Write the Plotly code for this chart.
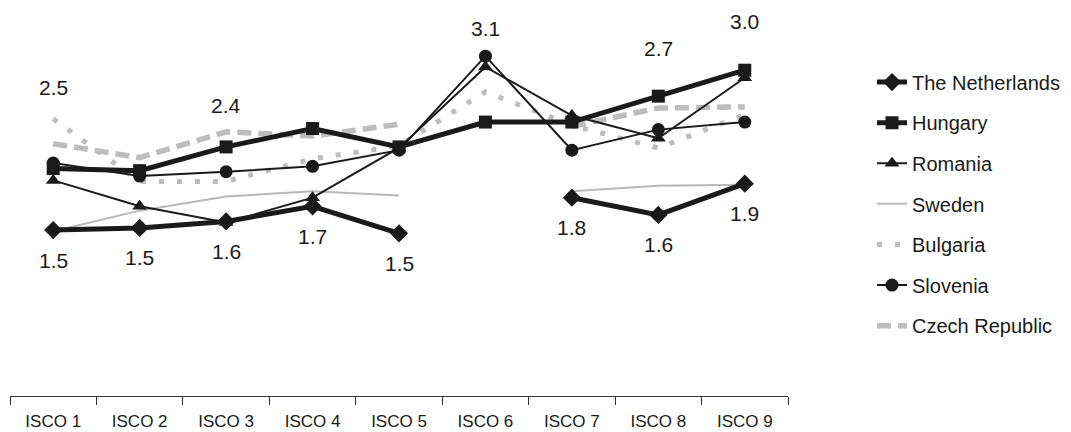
import plotly.graph_objects as go

categories = ["ISCO 1", "ISCO 2", "ISCO 3", "ISCO 4", "ISCO 5", "ISCO 6", "ISCO 7", "ISCO 8", "ISCO 9"]

netherlands = [1.49, 1.51, 1.57, 1.71, 1.46, None, 1.79, 1.63, 1.92]
hungary = [2.06, 2.04, 2.26, 2.43, 2.26, 2.49, 2.49, 2.73, 2.97]
romania = [1.95, 1.71, 1.56, 1.79, 2.25, 3.00, 2.55, 2.34, 2.90]
sweden = [1.48, 1.67, 1.80, 1.85, 1.81, None, 1.85, 1.90, 1.91]
bulgaria = [2.52, 1.94, 1.94, 2.15, 2.27, 2.77, 2.46, 2.25, 2.56]
slovenia = [2.11, 1.99, 2.03, 2.08, 2.23, 3.10, 2.23, 2.42, 2.49]
czech = [2.29, 2.16, 2.40, 2.36, 2.47, None, 2.45, 2.62, 2.63]

top_label_cats = ["ISCO 1", "ISCO 3", "ISCO 6", "ISCO 8", "ISCO 9"]
top_label_shift = [31, 26, 28, 48, 49]
bottom_label_shift = -30

FONT = "Liberation Sans, Arial, sans-serif"
BLACK = "#1a1a1a"
GRAY = "#bdbdbd"

fig = go.Figure()

# draw order: grey lines underneath, black on top; legend order via legendrank
specs = [
    ("Sweden", sweden, dict(color="#b8b8b8", width=2), None, 4),
    ("Bulgaria", bulgaria, dict(color=GRAY, width=5, dash="5px,13px"), None, 5),
    ("Czech Republic", czech, dict(color=GRAY, width=5.5, dash="14px,7px"), None, 7),
    ("Slovenia", slovenia, dict(color=BLACK, width=2), dict(symbol="circle", size=13, color=BLACK), 6),
    ("Romania", romania, dict(color=BLACK, width=2), dict(symbol="triangle-up", size=13, color=BLACK), 3),
    ("Hungary", hungary, dict(color=BLACK, width=5), dict(symbol="square", size=13, color=BLACK), 2),
    ("The Netherlands", netherlands, dict(color=BLACK, width=5), dict(symbol="diamond", size=14, color=BLACK), 1),
]

for name, vals, line, marker, rank in specs:
    fig.add_trace(go.Scatter(
        x=categories, y=vals, name=name,
        mode="lines+markers" if marker else "lines",
        line=line, marker=marker, connectgaps=False,
        legendrank=rank, legendgroup=name,
        hoverinfo="skip",
    ))

# bottom labels for The Netherlands
annotations = []
for c, v in zip(categories, netherlands):
    if v is None:
        continue
    annotations.append(dict(x=c, y=v, text=f"{v:.1f}", showarrow=False,
                            yshift=bottom_label_shift, xanchor="center", yanchor="middle",
                            font=dict(family=FONT, size=21, color=BLACK)))

# top labels: highest value among the countries at selected occupations
all_series = [netherlands, hungary, romania, sweden, bulgaria, slovenia, czech]
for c, sh in zip(top_label_cats, top_label_shift):
    i = categories.index(c)
    m = max(s[i] for s in all_series if s[i] is not None)
    annotations.append(dict(x=c, y=m, text=f"{m:.1f}", showarrow=False,
                            yshift=sh, xanchor="center", yanchor="middle",
                            font=dict(family=FONT, size=21, color=BLACK)))

fig.update_layout(
    width=1071, height=432,
    margin=dict(l=10, r=283, t=0, b=36, autoexpand=False),
    paper_bgcolor="white", plot_bgcolor="white",
    font=dict(family=FONT, color=BLACK),
    showlegend=True,
    legend=dict(x=1.108, y=0.842, xanchor="left", yanchor="top",
                font=dict(family=FONT, size=20, color=BLACK),
                tracegroupgap=11.6, bgcolor="rgba(0,0,0,0)"),
    annotations=annotations,
    xaxis=dict(type="category", range=[-0.5, 8.5], showgrid=False, zeroline=False,
               showline=True, linecolor="#333333", linewidth=1,
               ticks="outside", tickson="boundaries", ticklen=8, tickcolor="#333333",
               ticklabelstandoff=10,
               tickfont=dict(family=FONT, size=17, color=BLACK)),
    yaxis=dict(range=[-0.046, 3.62], visible=False, showgrid=False, zeroline=False),
)

fig.write_html("out.html")
